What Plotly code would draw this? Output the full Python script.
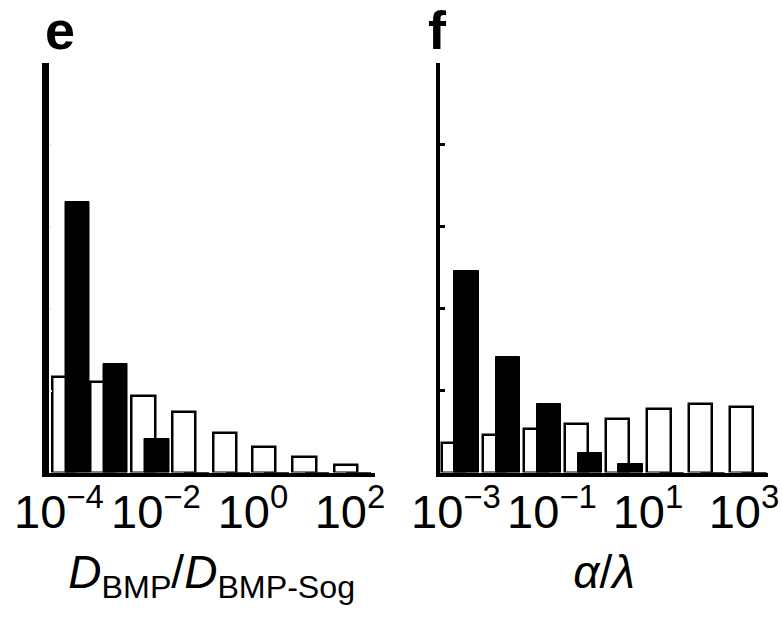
import plotly.graph_objects as go

W, H = 782, 624

# ---------------- data ----------------
# panel e: bins in log10(D_BMP / D_BMP-Sog)
e_bins = [-3.75, -2.96, -2.11, -1.28, -0.43, 0.37, 1.20, 2.06]
e_white = [11.7, 11.1, 9.3, 7.4, 4.8, 3.1, 1.9, 0.9]
e_black = [33.0, 13.2, 4.1, 0.0, 0.0, 0.0, 0.0, 0.0]
e_tickvals = [-4, -2, 0, 2]
e_ticktext = ["10<sup>\u22124</sup>", "10<sup>\u22122</sup>", "10<sup>0</sup>", "10<sup>2</sup>"]

# panel f: bins in log10(alpha / lambda)
f_bins = [-2.91, -2.05, -1.19, -0.34, 0.51, 1.37, 2.23, 3.09]
f_white = [3.6, 4.6, 5.3, 5.9, 6.5, 7.8, 8.4, 8.0]
f_black = [24.6, 14.1, 8.4, 2.4, 1.0, 0.0, 0.0, 0.0]
f_tickvals = [-3, -1, 1, 3]
f_ticktext = ["10<sup>\u22123</sup>", "10<sup>\u22121</sup>", "10<sup>1</sup>", "10<sup>3</sup>"]

FONT = "Liberation Sans, Arial, sans-serif"

fig = go.Figure()


def add_panel(bins, white, black, xa, ya):
    fig.add_trace(go.Bar(
        x=bins, y=white, xaxis=xa, yaxis=ya,
        offset=-0.385, width=0.485,
        marker=dict(color="white", line=dict(color="black", width=2.5)),
        hoverinfo="skip"))
    fig.add_trace(go.Bar(
        x=bins, y=black, xaxis=xa, yaxis=ya,
        offset=-0.125, width=0.505,
        marker=dict(color="black", line=dict(color="black", width=1)),
        hoverinfo="skip"))


add_panel(e_bins, e_white, e_black, "x", "y")
add_panel(f_bins, f_white, f_black, "x2", "y2")

ydom = [1 - 472.5 / H, 1 - 63 / H]

common_x = dict(showgrid=False, zeroline=False, showline=True, linecolor="black",
                linewidth=4, ticks="", tickfont=dict(family=FONT, size=47, color="black"),
                ticklabelstandoff=-5, automargin=False,
                title_font=dict(family=FONT, size=46, color="black"))
common_y = dict(showgrid=False, zeroline=False, showline=True, linecolor="black",
                showticklabels=False, range=[0, 50], tickvals=[0, 10, 20, 30, 40, 50],
                ticks="inside", automargin=False)

fig.update_layout(
    width=W, height=H,
    margin=dict(l=0, r=0, t=0, b=0),
    paper_bgcolor="white", plot_bgcolor="white",
    showlegend=False, barmode="overlay", bargap=0,
    xaxis=dict(common_x, domain=[48.5 / W, 375 / W], range=[-4.216, 2.516],
               tickvals=e_tickvals, ticktext=e_ticktext, anchor="y",
               title=dict(text="<i>D</i><sub>BMP</sub>/<i>D</i><sub>BMP-Sog</sub>", standoff=20)),
    yaxis=dict(common_y, domain=ydom, linewidth=7, anchor="x",
               ticklen=3, tickwidth=2, tickcolor="#eeeeee"),
    xaxis2=dict(common_x, domain=[440 / W, 768 / W], range=[-3.333, 3.5],
                tickvals=f_tickvals, ticktext=f_ticktext, anchor="y2",
                title=dict(text="<i>\u03b1</i>/<i>\u03bb</i>", standoff=20)),
    yaxis2=dict(common_y, domain=ydom, linewidth=4, anchor="x2",
                ticklen=5, tickwidth=3, tickcolor="black"),
    annotations=[
        dict(text="<b>e</b>", x=43 / W, y=1 - 62 / H, xref="paper", yref="paper",
             xanchor="left", yanchor="bottom", showarrow=False,
             font=dict(family=FONT, size=54, color="black")),
        dict(text="<b>f</b>", x=426 / W, y=1 - 62 / H, xref="paper", yref="paper",
             xanchor="left", yanchor="bottom", showarrow=False,
             font=dict(family=FONT, size=54, color="black")),
    ],
)

fig.write_html("out.html")
